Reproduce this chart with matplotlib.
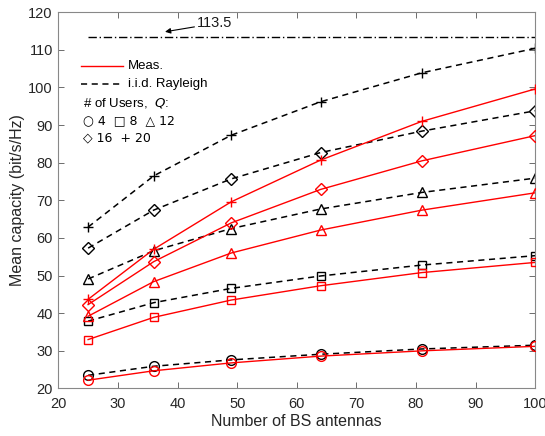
import matplotlib
matplotlib.use("Agg")
import matplotlib.pyplot as plt
from matplotlib.lines import Line2D

plt.rcParams["font.family"] = ["Liberation Sans", "DejaVu Sans"]

antennas = [25, 36, 49, 64, 81, 100]
users = [4, 8, 12, 16, 20]
markers = ["o", "s", "^", "D", "+"]

# measured mean capacity, one row per number of users
meas = [
    [22.2, 24.7, 26.8, 28.6, 30.0, 31.2],
    [33.0, 38.9, 43.5, 47.3, 50.8, 53.5],
    [39.2, 48.4, 56.0, 62.1, 67.4, 72.0],
    [42.3, 53.7, 64.0, 72.9, 80.5, 87.2],
    [43.7, 57.0, 69.6, 80.7, 91.0, 99.6],
]
# i.i.d. Rayleigh reference
iid = [
    [23.5, 25.9, 27.6, 29.1, 30.5, 31.5],
    [37.9, 42.8, 46.6, 49.9, 52.8, 55.3],
    [49.1, 56.6, 62.5, 67.7, 72.1, 75.9],
    [57.3, 67.4, 75.7, 82.7, 88.4, 93.8],
    [62.9, 76.5, 87.3, 96.2, 103.9, 110.4],
]
upper_bound = 113.5

fig = plt.figure(figsize=(5.45, 4.36), dpi=100)
ax = fig.add_axes([0.107, 0.109, 0.875, 0.863])

for mk, m, r in zip(markers, meas, iid):
    ms = 6 if mk in ("D", "s") else 7
    ax.plot(antennas, r, color="black", linestyle=(0, (4, 3)), linewidth=1.1,
            marker=mk, markersize=ms, markerfacecolor="none",
            markeredgewidth=1.0, zorder=2)
    ax.plot(antennas, m, color="#ff0000", linestyle="-", linewidth=1.0,
            marker=mk, markersize=ms, markerfacecolor="none",
            markeredgewidth=1.0, zorder=3)

ax.plot([antennas[0], antennas[-1]], [upper_bound, upper_bound],
        color="black", linestyle=(0, (6, 2, 1, 2)), linewidth=1.0)
ax.annotate(f"{upper_bound}", xy=(37.9, 114.8), xytext=(43.3, 117.0),
            fontsize=10.5, va="center", ha="left", color="#1a1a1a",
            arrowprops=dict(arrowstyle="-|>", color="black", lw=0.8,
                            mutation_scale=8, shrinkA=0, shrinkB=0))

ax.set_xlim(20, 100)
ax.set_ylim(20, 120)
ax.set_xticks(range(20, 101, 10))
ax.set_yticks(range(20, 121, 10))
ax.tick_params(direction="in", top=True, right=True, labelsize=10.5,
               length=4, color="#555555", width=0.6, labelcolor="#262626")
ax.tick_params(axis="x", pad=6)
ax.tick_params(axis="y", pad=4)
for s in ax.spines.values():
    s.set_color("#888888")
    s.set_linewidth(0.8)
ax.set_xlabel("Number of BS antennas", fontsize=11.5, labelpad=2,
              color="#262626")
ax.set_ylabel("Mean capacity (bit/s/Hz)", fontsize=11.5, labelpad=2,
              color="#262626")

# hand-made legend in the upper left corner
ax.add_line(Line2D([23.8, 30.9], [105.8, 105.8], color="#ff0000", lw=1.0))
ax.text(31.7, 105.8, "Meas.", fontsize=9.5, va="center")
ax.add_line(Line2D([23.8, 30.9], [100.9, 100.9], color="black", lw=1.1,
                   linestyle=(0, (4, 3))))
ax.text(31.7, 100.9, "i.i.d. Rayleigh", fontsize=9.5, va="center")
ax.text(24.1, 96.0, "# of Users,  $\\it{Q}$:", fontsize=9.5, va="center")
ax.text(24.1, 91.2, "\u25cb 4  \u25a1 8  \u25b3 12", fontsize=9, va="center",
        family=["DejaVu Sans"])
ax.text(24.1, 86.5, "\u25c7 16  + 20", fontsize=9, va="center",
        family=["DejaVu Sans"])

fig.savefig("out.png", dpi=100)
